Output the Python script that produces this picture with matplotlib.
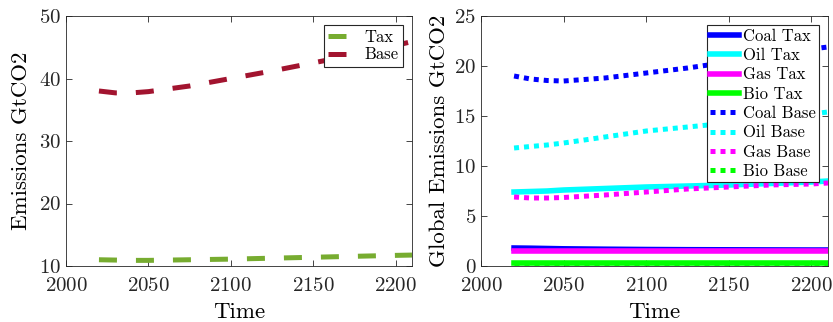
import numpy as np
import matplotlib
matplotlib.use("Agg")
from matplotlib import pyplot as plt

plt.rcParams['font.family'] = ['cmr10', 'DejaVu Serif']
plt.rcParams['axes.formatter.use_mathtext'] = True
plt.rcParams['mathtext.fontset'] = 'cm'

years = [2020, 2030, 2040, 2050, 2075, 2100, 2125, 2150, 2175, 2200, 2210]

# left panel: total emissions
total_tax = [11.0, 10.95, 10.9, 10.9, 11.0, 11.1, 11.25, 11.4, 11.55, 11.7, 11.75]
total_base = [38.0, 37.7, 37.7, 37.9, 38.8, 40.0, 41.2, 42.5, 43.8, 45.3, 45.9]

# right panel: emissions by fuel
coal_tax = [1.8, 1.78, 1.75, 1.72, 1.68, 1.65, 1.63, 1.62, 1.61, 1.6, 1.6]
oil_tax = [7.4, 7.45, 7.5, 7.6, 7.75, 7.9, 8.0, 8.1, 8.25, 8.4, 8.5]
gas_tax = [1.5, 1.5, 1.5, 1.5, 1.5, 1.5, 1.5, 1.5, 1.5, 1.5, 1.5]
bio_tax = [0.3, 0.3, 0.3, 0.3, 0.3, 0.3, 0.3, 0.3, 0.3, 0.3, 0.3]
coal_base = [19.0, 18.7, 18.55, 18.5, 18.8, 19.3, 19.8, 20.4, 21.0, 21.7, 21.9]
oil_base = [11.8, 11.95, 12.1, 12.3, 12.9, 13.5, 13.9, 14.3, 14.75, 15.2, 15.4]
gas_base = [6.9, 6.8, 6.8, 6.85, 7.1, 7.4, 7.7, 7.9, 8.1, 8.2, 8.3]
bio_base = [0.3, 0.3, 0.3, 0.3, 0.3, 0.3, 0.3, 0.3, 0.3, 0.3, 0.3]

fig = plt.figure(figsize=(8.33, 3.22), dpi=100)
ax1 = fig.add_axes([66 / 833, 1 - 266 / 322, 346 / 833, 250 / 322])
ax2 = fig.add_axes([481 / 833, 1 - 266 / 322, 347 / 833, 250 / 322])

ax1.plot(years, total_tax, color='#77AC30', lw=3.6, dashes=(3.6, 3.8), label='Tax')
ax1.plot(years, total_base, color='#A2142F', lw=3.6, dashes=(3.6, 3.8), label='Base')
ax1.set_ylim(10, 50)
ax1.set_yticks([10, 20, 30, 40, 50])
ax1.set_ylabel('Emissions GtCO2', fontsize=16.5, labelpad=6)

ax2.plot(years, coal_tax, color='blue', lw=4, label='Coal Tax')
ax2.plot(years, oil_tax, color='cyan', lw=4, label='Oil Tax')
ax2.plot(years, gas_tax, color='magenta', lw=4, label='Gas Tax')
ax2.plot(years, bio_tax, color='#00ff00', lw=4, label='Bio Tax')
ax2.plot(years, coal_base, color='blue', lw=3.6, dashes=(1, 1), label='Coal Base')
ax2.plot(years, oil_base, color='cyan', lw=3.6, dashes=(1, 1), label='Oil Base')
ax2.plot(years, gas_base, color='magenta', lw=3.6, dashes=(1, 1), label='Gas Base')
ax2.plot(years, bio_base, color='#00ff00', lw=3.6, dashes=(1, 1), label='Bio Base')
ax2.set_ylim(0, 25)
ax2.set_yticks([0, 5, 10, 15, 20, 25])
ax2.set_ylabel('Global Emissions GtCO2', fontsize=16.5, labelpad=4)

for ax in (ax1, ax2):
    ax.set_xlim(2000, 2210)
    ax.set_xticks([2000, 2050, 2100, 2150, 2200])
    ax.set_xlabel('Time', fontsize=16.5, labelpad=5)
    ax.tick_params(direction='in', top=True, right=True, labelsize=15,
                   colors='#262626', length=4, width=0.6)
    ax.tick_params(axis='x', pad=8)
    for s in ax.spines.values():
        s.set_color('#262626')
        s.set_linewidth(0.6)

leg1 = ax1.legend(loc='upper right', fontsize=12, frameon=True, fancybox=False,
                  framealpha=1, edgecolor='#262626', handlelength=1.2,
                  borderpad=0.25, labelspacing=0.15, handletextpad=1.0,
                  borderaxespad=0.55)
leg1.get_frame().set_linewidth(0.8)
leg2 = ax2.legend(loc='upper right', fontsize=12, frameon=True, fancybox=False,
                  framealpha=1, edgecolor='#262626', handlelength=1.75,
                  borderpad=0.2, labelspacing=0.24, handletextpad=0.2,
                  borderaxespad=0.55)
leg2.get_frame().set_linewidth(0.8)

fig.savefig('out.png', dpi=100)
